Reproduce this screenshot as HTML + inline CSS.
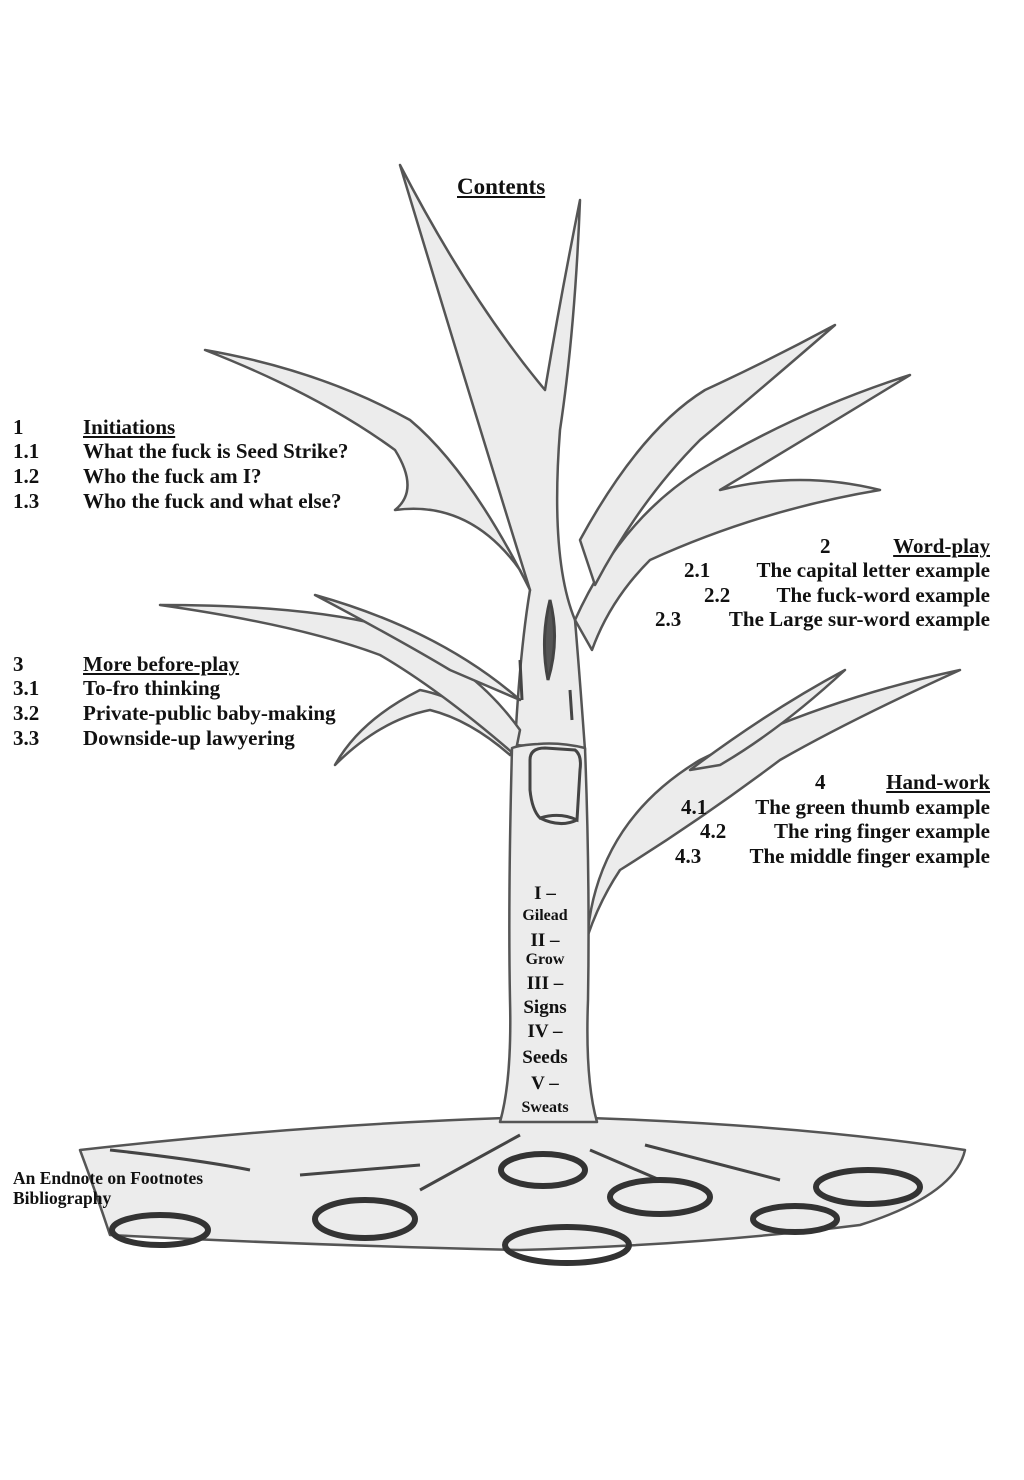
<!DOCTYPE html>
<html><head><meta charset="utf-8"><style>
html,body{margin:0;padding:0;background:#fff;}
#c{position:relative;width:1024px;height:1480px;overflow:hidden;font-family:"Liberation Serif",serif;font-weight:bold;color:#111;}
.t{position:absolute;font-size:21px;white-space:nowrap;line-height:1;}
.u{text-decoration:underline;}
.r{text-align:right;}
.tr{position:absolute;left:495px;width:100px;text-align:center;font-size:19px;line-height:1;}
.sm{font-size:16px;}
svg{position:absolute;left:0;top:0;}
</style></head><body><div id="c">
<svg width="1024" height="1480" viewBox="0 0 1024 1480">
<g fill="#ececec" stroke="#555" stroke-width="2.5" stroke-linejoin="round">
<path d="M80,1150 Q300,1125 505,1118 L590,1118 Q800,1125 965,1150 Q955,1195 860,1225 Q700,1245 520,1250 Q300,1245 110,1235 Q95,1190 80,1150 Z"/>
<path d="M515,745 Q520,650 530,590 Q480,430 400,165 Q470,300 545,390 Q560,300 580,200 Q575,330 560,430 Q550,560 575,620 Q580,680 585,750 Z"/>
<path d="M575,620 Q620,520 700,470 Q800,410 910,375 Q820,430 720,490 Q800,470 880,490 Q760,510 650,560 Q610,600 592,650 Z"/>
<path d="M580,540 Q640,430 705,390 Q770,360 835,325 Q760,390 700,440 Q640,500 595,585 Z"/>
<path d="M530,590 Q470,470 410,420 Q320,370 205,350 Q320,395 395,450 Q420,490 395,510 Q470,500 520,570 Z"/>
<path d="M515,745 Q470,700 420,690 Q360,720 335,765 Q380,720 430,710 Q470,720 510,755 Z"/>
<path d="M520,730 Q470,660 380,625 Q300,605 160,605 Q300,625 380,655 Q440,690 515,755 Z"/>
<path d="M520,700 Q440,630 315,595 Q400,640 450,670 Z"/>
<path d="M588,930 Q600,820 700,760 Q820,700 960,670 Q850,720 780,760 Q700,820 620,870 Q600,900 588,935 Z"/>
<path d="M690,770 Q770,710 845,670 Q780,730 720,765 Z"/>
<path d="M512,748 Q508,900 510,1000 Q512,1080 500,1122 L597,1122 Q585,1080 588,1000 Q590,880 585,748 Q560,742 538,744 Q520,745 512,748 Z"/>
</g>
<g fill="none" stroke="#444" stroke-width="3">
<path d="M530,760 Q530,748 545,748 L575,750 Q582,755 580,770 L577,820 Q560,812 540,818 Q532,810 530,790 Z"/>
<path d="M540,818 Q560,828 577,820"/>
<path d="M550,600 Q540,640 548,680 Q560,640 550,600 Z" fill="#555"/>
<path d="M520,660 L522,700 M570,690 L572,720 M520,1135 L420,1190 M590,1150 L660,1180 M645,1145 L780,1180 M420,1165 L300,1175 M110,1150 Q200,1160 250,1170"/>
</g>
<g fill="none" stroke="#333" stroke-width="6">
<ellipse cx="543" cy="1170" rx="42" ry="16"/>
<ellipse cx="660" cy="1197" rx="50" ry="17"/>
<ellipse cx="868" cy="1187" rx="52" ry="17"/>
<ellipse cx="795" cy="1219" rx="42" ry="13"/>
<ellipse cx="365" cy="1219" rx="50" ry="19"/>
<ellipse cx="567" cy="1245" rx="62" ry="18"/>
<ellipse cx="160" cy="1230" rx="48" ry="15"/>
</g>
</svg>
<div class="t u" style="left:457px;top:175px;font-size:23px">Contents</div>

<div class="t" style="left:13px;top:417px">1</div><div class="t u" style="left:83px;top:417px">Initiations</div>
<div class="t" style="left:13px;top:441px">1.1</div><div class="t" style="left:83px;top:441px">What the fuck is Seed Strike?</div>
<div class="t" style="left:13px;top:466px">1.2</div><div class="t" style="left:83px;top:466px">Who the fuck am I?</div>
<div class="t" style="left:13px;top:491px">1.3</div><div class="t" style="left:83px;top:491px">Who the fuck and what else?</div>

<div class="t" style="left:820px;top:536px">2</div><div class="t u r" style="right:34px;top:536px">Word-play</div>
<div class="t" style="left:684px;top:560px">2.1</div><div class="t r" style="right:34px;top:560px">The capital letter example</div>
<div class="t" style="left:704px;top:585px">2.2</div><div class="t r" style="right:34px;top:585px">The fuck-word example</div>
<div class="t" style="left:655px;top:609px">2.3</div><div class="t r" style="right:34px;top:609px">The Large sur-word example</div>

<div class="t" style="left:13px;top:654px">3</div><div class="t u" style="left:83px;top:654px">More before-play</div>
<div class="t" style="left:13px;top:678px">3.1</div><div class="t" style="left:83px;top:678px">To-fro thinking</div>
<div class="t" style="left:13px;top:703px">3.2</div><div class="t" style="left:83px;top:703px">Private-public baby-making</div>
<div class="t" style="left:13px;top:728px">3.3</div><div class="t" style="left:83px;top:728px">Downside-up lawyering</div>

<div class="t" style="left:815px;top:772px">4</div><div class="t u r" style="right:34px;top:772px">Hand-work</div>
<div class="t" style="left:681px;top:797px">4.1</div><div class="t r" style="right:34px;top:797px">The green thumb example</div>
<div class="t" style="left:700px;top:821px">4.2</div><div class="t r" style="right:34px;top:821px">The ring finger example</div>
<div class="t" style="left:675px;top:846px">4.3</div><div class="t r" style="right:34px;top:846px">The middle finger example</div>

<div class="tr" style="top:884px">I –</div>
<div class="tr sm" style="top:908px">Gilead</div>
<div class="tr" style="top:931px">II –</div>
<div class="tr sm" style="top:952px">Grow</div>
<div class="tr" style="top:974px">III –</div>
<div class="tr" style="top:998px">Signs</div>
<div class="tr" style="top:1022px">IV –</div>
<div class="tr" style="top:1048px">Seeds</div>
<div class="tr" style="top:1074px">V –</div>
<div class="tr sm" style="top:1100px">Sweats</div>

<div class="t" style="left:13px;top:1170px;font-size:17.5px">An Endnote on Footnotes</div>
<div class="t" style="left:13px;top:1190px;font-size:17.5px">Bibliography</div>
</div></body></html>
